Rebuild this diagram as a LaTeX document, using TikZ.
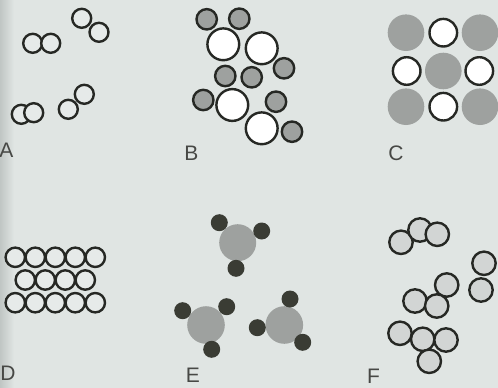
\documentclass[tikz,border=0pt]{standalone}
\usepackage{fontspec}
\setmainfont{Liberation Sans}
\definecolor{cPaper}{RGB}{224,229,227}
\definecolor{cShadow}{RGB}{192,198,196}
\definecolor{cInk}{RGB}{38,40,36}
\definecolor{cGrey}{RGB}{158,161,159}
\definecolor{cDark}{RGB}{58,60,52}
\definecolor{cFill}{RGB}{210,213,212}
\tikzset{
  ring/.style={
    circle, draw=cInk, line width=2.4pt, fill=cPaper!80!white,
    inner sep=0pt, minimum size=19pt,
  },
  ringW/.style={ring, fill=white},
  ringG/.style={ring, fill=cGrey, minimum size=20.4pt},
  ringF/.style={ring, fill=cFill, minimum size=23.4pt},
  blob/.style={circle, fill=cGrey, inner sep=0pt, minimum size=36.6pt},
  atomK/.style={circle, fill=cDark, inner sep=0pt, minimum size=17pt},
  tag/.style={font=\fontsize{21}{21}\selectfont, text=cInk!85, inner sep=0pt},
}

\begin{document}
\begin{tikzpicture}[x=1pt, y=-1pt]

% ===== paper =====
\fill[cPaper] (0,0) rectangle (498,388);
\shade[left color=cShadow, right color=cPaper] (0,0) rectangle (14,388);
\useasboundingbox (0,0) rectangle (498,388);

% ===== A: pairs =====
\node[ring] (a11) at (32.7,43.3) {};
\node[ring] (a12) at (50.7,43.3) {};
\node[ring] (a21) at (81.7,18.3) {};
\node[ring] (a22) at (99.0,32.3) {};
\node[ring] (a31) at (21.3,114.3) {};
\node[ring] (a32) at (33.7,112.7) {};
\node[ring] (a41) at (68.3,109.3) {};
\node[ring] (a42) at (84.3,94.3) {};
\node[tag] (labA) at (6.5,150) {A};

% ===== B: mixed sizes =====
\node[ringW, minimum size=31.8pt] (bL1) at (223.3,44.3) {};
\node[ringW, minimum size=31.8pt] (bL2) at (261.7,48.3) {};
\node[ringW, minimum size=31.8pt] (bL3) at (232.3,105.0) {};
\node[ringW, minimum size=31.8pt] (bL4) at (261.7,128.3) {};
\node[ringG] (bS1) at (206.7,19.3) {};
\node[ringG] (bS2) at (239.3,18.7) {};
\node[ringG] (bS3) at (225.3,76.0) {};
\node[ringG] (bS4) at (251.7,77.3) {};
\node[ringG] (bS5) at (284.0,68.3) {};
\node[ringG] (bS6) at (203.3,100.0) {};
\node[ringG] (bS7) at (276.0,101.7) {};
\node[ringG] (bS8) at (292.0,131.7) {};
\node[tag] (labB) at (191.5,153) {B};

% ===== C: lattice =====
\node[blob] (c11) at (406.0,32.7) {};
\node[ringW, minimum size=27.6pt] (c12) at (443.3,32.7) {};
\node[blob] (c13) at (480.0,32.7) {};
\node[ringW, minimum size=27.6pt] (c21) at (406.7,71.0) {};
\node[blob] (c22) at (443.3,71.0) {};
\node[ringW, minimum size=27.6pt] (c23) at (479.3,71.0) {};
\node[blob] (c31) at (406.0,106.7) {};
\node[ringW, minimum size=27.6pt] (c32) at (443.3,106.7) {};
\node[blob] (c33) at (480.0,106.7) {};
\node[tag] (labC) at (396,153) {C};

% ===== D: close packed rows =====
\foreach \i/\x in {1/15.3,2/35.3,3/55.3,4/75.3,5/95.3} {
  \node[ring, minimum size=19.4pt] (d1\i) at (\x,257.3) {};
  \node[ring, minimum size=19.4pt] (d3\i) at (\x,302.7) {};
}
\foreach \i/\x in {1/25.3,2/45.3,3/65.3,4/85.3}
  \node[ring, minimum size=19.4pt] (d2\i) at (\x,280.0) {};
\node[tag] (labD) at (8,373) {D};

% ===== E: molecules =====
\node[blob, minimum size=37pt] (e1) at (237.7,242.7) {};
\node[atomK] (e1a) at (219.3,222.7) {};
\node[atomK] (e1b) at (261.7,231.0) {};
\node[atomK] (e1c) at (236.0,268.3) {};
\node[blob, minimum size=37.6pt] (e2) at (206.0,325.0) {};
\node[atomK] (e2a) at (182.7,310.7) {};
\node[atomK] (e2b) at (226.7,306.7) {};
\node[atomK] (e2c) at (211.7,349.3) {};
\node[blob, minimum size=37.6pt] (e3) at (284.3,325.0) {};
\node[atomK] (e3a) at (290.0,299.0) {};
\node[atomK] (e3b) at (257.3,327.7) {};
\node[atomK] (e3c) at (302.7,342.3) {};
\node[tag] (labE) at (193,375) {E};

% ===== F: small clusters =====
\node[ringF] (f11) at (401.0,242.3) {};
\node[ringF] (f12) at (420.0,230.0) {};
\node[ringF] (f13) at (437.3,234.3) {};
\node[ringF] (f21) at (484.0,263.3) {};
\node[ringF] (f22) at (481.0,290.0) {};
\node[ringF] (f31) at (446.7,285.0) {};
\node[ringF] (f32) at (415.0,301.0) {};
\node[ringF] (f33) at (436.7,306.0) {};
\node[ringF] (f41) at (400.0,333.3) {};
\node[ringF] (f42) at (422.7,339.3) {};
\node[ringF] (f43) at (446.0,340.0) {};
\node[ringF] (f44) at (429.3,361.3) {};
\node[tag] (labF) at (373.5,376) {F};

\end{tikzpicture}
\end{document}
